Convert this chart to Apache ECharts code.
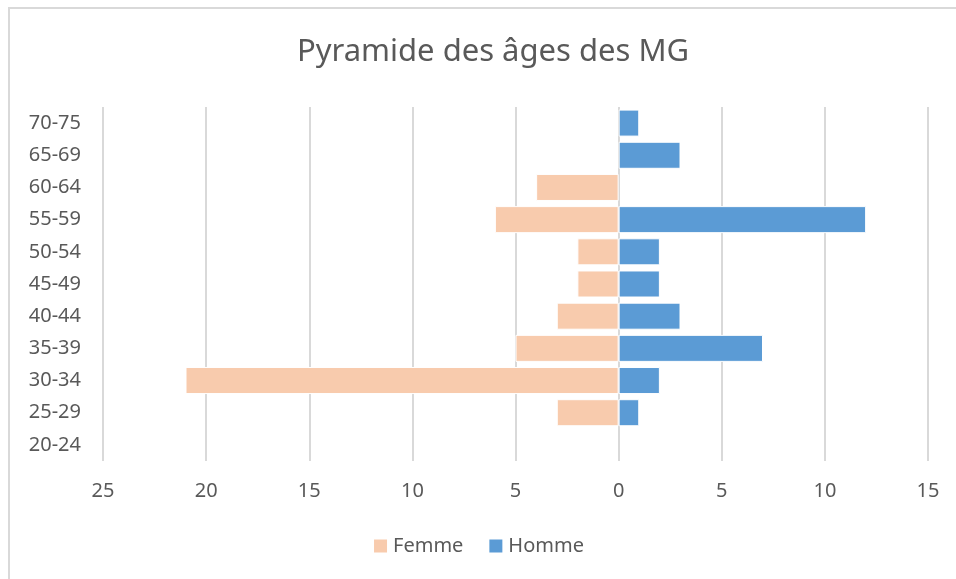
<!DOCTYPE html>
<html lang="fr">
<head>
    <title>Pyramide des âges des MG</title>
    <meta charset="utf-8">
    <style>
        html, body {margin: 0; padding: 0; background: #fff;}
        #frame {position: absolute; left: 8px; top: 7px; width: 980px; height: 600px; border: 2px solid #d9d9d9; box-sizing: border-box;}
        #container {position: absolute; left: 0; top: 0; width: 956px; height: 579px;}
    </style>
</head>
<body>
<div id="frame"></div>
<div id="container"></div>

<script src="https://cdn.jsdelivr.net/npm/echarts@6/dist/echarts.min.js"></script>
<script>
var ages = ['20-24', '25-29', '30-34', '35-39', '40-44', '45-49', '50-54', '55-59', '60-64', '65-69', '70-75'];
var femme = [0, 3, 21, 5, 3, 2, 2, 6, 4, 0, 0];
var homme = [0, 1, 2, 7, 3, 2, 2, 12, 0, 3, 1];

var myChart = echarts.init(document.getElementById('container'));
var txt = '#595959';
var font = 'Noto Sans';

var options = {
    animation: false,
    title: {
        text: 'Pyramide des âges des MG',
        left: 488,
        top: 32,
        textAlign: 'center',
        textStyle: {fontFamily: font, fontSize: 31, fontWeight: 'normal', color: txt}
    },
    legend: {
        bottom: 18,
        left: 'center',
        itemWidth: 15,
        itemHeight: 15,
        itemGap: 24,
        icon: 'rect',
        textStyle: {fontFamily: font, fontSize: 20, color: txt},
        data: ['Femme', 'Homme']
    },
    grid: {left: 103, right: 28, top: 107, bottom: 118},
    xAxis: {
        type: 'value',
        min: -25,
        max: 15,
        interval: 5,
        axisLine: {show: false},
        axisTick: {show: false},
        splitLine: {lineStyle: {color: '#d9d9d9', width: 2}},
        axisLabel: {
            fontFamily: font, fontSize: 20, color: txt, margin: 20,
            formatter: function (v) { return Math.abs(v); }
        }
    },
    yAxis: {
        type: 'category',
        data: ages,
        axisLine: {show: false},
        axisTick: {show: false},
        axisLabel: {fontFamily: font, fontSize: 20, color: txt, margin: 22}
    },
    series: [
        {
            name: 'Femme',
            type: 'bar',
            stack: 'f',
            barWidth: '84%',
            barGap: '-100%',
            itemStyle: {color: '#f8cbad', borderColor: '#fff', borderWidth: 1},
            data: femme.map(function (v) { return v ? -v : null; })
        },
        {
            name: 'Homme',
            type: 'bar',
            stack: 'h',
            barWidth: '84%',
            barGap: '-100%',
            itemStyle: {color: '#5b9bd5', borderColor: '#fff', borderWidth: 1},
            data: homme.map(function (v) { return v || null; })
        }
    ]
};

myChart.setOption(options);
</script>
</body>
</html>
